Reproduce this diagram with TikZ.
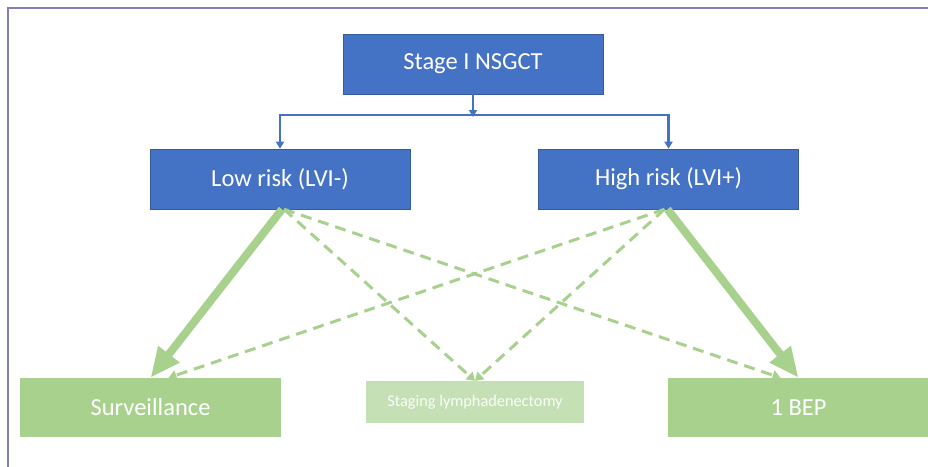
\documentclass[tikz,border=0pt]{standalone}
\usepackage{fontspec}
\setmainfont{Carlito}
\usetikzlibrary{arrows.meta}
\definecolor{boxblue}{HTML}{4472C4}
\definecolor{boxgreen}{HTML}{A9D18E}
\definecolor{lightgreen}{HTML}{C5E0B4}
\definecolor{framecol}{HTML}{8080B4}
\tikzset{
  bluebox/.style={fill=boxblue, draw=boxblue!80!black, line width=0.6pt, text=white, minimum width=260pt, minimum height=60pt, inner sep=0pt, font=\fontsize{24.5}{28}\selectfont},
  greenbox/.style={fill=boxgreen, draw=none, text=white, minimum width=261pt, minimum height=59pt, inner sep=0pt, font=\fontsize{24.5}{28}\selectfont},
  stagbox/.style={fill=lightgreen, draw=none, text=white!92!lightgreen, minimum width=218pt, minimum height=42pt, inner sep=0pt, font=\fontsize{16.3}{19}\selectfont},
  bluearrow/.style={draw=boxblue, line width=2.2pt, -{Triangle[width=8pt,length=7pt]}},
  thickarrow/.style={draw=boxgreen, line width=8pt, -{Triangle[width=25pt,length=30pt]}},
  dasharrow/.style={draw=boxgreen, line width=3pt, dash pattern=on 11pt off 7pt, -{Triangle[width=10pt,length=8pt]}},
}
\begin{document}
\begin{tikzpicture}[x=1pt,y=-1pt]
\useasboundingbox (0,0) rectangle (928,466);
\fill[white] (0,0) rectangle (928,466);
\draw[framecol, line width=2pt] (8,470) -- (8,7.5) -- (932,7.5);

\node[bluebox] (stage) at (473,64) {Stage I NSGCT};
\node[bluebox] (low) at (280,179) {Low risk (LVI-)};
\node[bluebox] (high) at (668.5,179) {High risk (LVI+)};
\node[greenbox] (surv) at (150.5,407.5) {Surveillance};
\node[stagbox] (stag) at (475,402) {Staging lymphadenectomy};
\node[greenbox] (bep) at (798.5,407.5) {1 BEP};

\coordinate (jn) at (473,115);
\draw[bluearrow] (stage.south) -- ([yshift=-2pt]jn);
\draw[bluearrow] (jn) -| (low.north);
\draw[bluearrow] (jn) -| (high.north);

\draw[dasharrow] ([xshift=4pt]low.south) -- (stag.north);
\draw[dasharrow] ([xshift=4pt]low.south) -- ([xshift=-18pt]bep.north);
\draw[dasharrow] ([xshift=-4pt]high.south) -- (stag.north);
\draw[dasharrow] ([xshift=-4pt]high.south) -- ([xshift=18pt]surv.north);

\draw[thickarrow] ([xshift=2pt]low.south) -- (surv.north);
\draw[thickarrow] ([xshift=-1pt]high.south) -- (bep.north);
\end{tikzpicture}
\end{document}
